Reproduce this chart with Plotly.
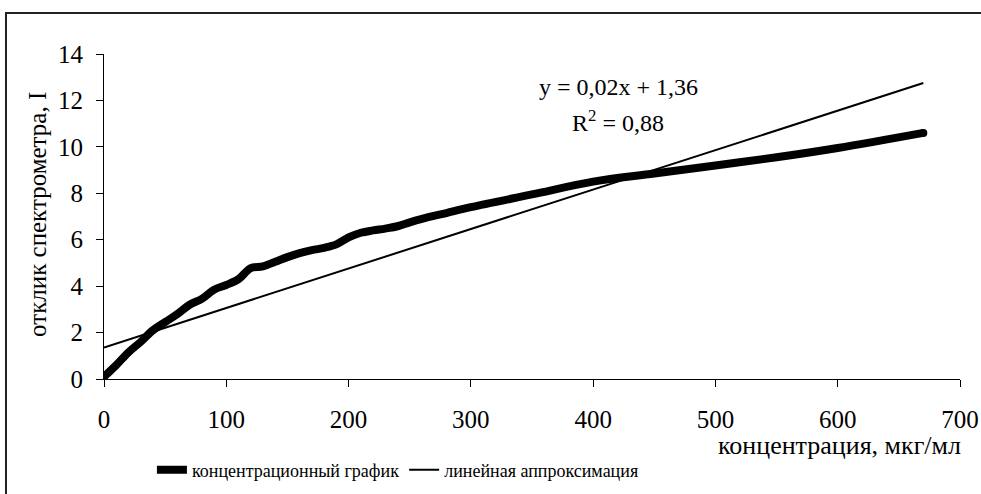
import plotly.graph_objects as go

# Concentration (µg/ml) and spectrometer response
concentration = [0, 10, 20, 30, 40, 50, 60, 70, 80, 90, 100, 110, 120, 130, 140,
                 150, 160, 170, 180, 190, 200, 210, 220, 230, 240, 250, 260, 280,
                 300, 350, 400, 450, 500, 550, 600, 670]
response = [0.1, 0.6, 1.15, 1.6, 2.1, 2.45, 2.8, 3.2, 3.45, 3.85, 4.05, 4.3, 4.78,
            4.85, 5.05, 5.25, 5.42, 5.55, 5.65, 5.8, 6.1, 6.3, 6.4, 6.48, 6.58,
            6.75, 6.9, 7.15, 7.4, 7.95, 8.5, 8.85, 9.2, 9.55, 9.95, 10.6]

# Linear approximation parameters
trend_slope = 0.017
trend_intercept = 1.36
trend_r2 = 0.88

x_ticks = [0, 100, 200, 300, 400, 500, 600, 700]
y_ticks = [0, 2, 4, 6, 8, 10, 12, 14]

series_names = ["концентрационный график", "линейная аппроксимация"]
x_title = "концентрация, мкг/мл"
y_title = "отклик спектрометра, I"


def fmt(v):
    return f"{v:.2f}".replace(".", ",")


trend_x = [min(concentration), max(concentration)]
trend_y = [trend_intercept + trend_slope * v for v in trend_x]

SERIF = "Liberation Serif, Times New Roman, serif"

fig = go.Figure()
fig.add_trace(go.Scatter(
    x=concentration, y=response, mode="lines", name=series_names[0],
    line=dict(color="black", width=8, shape="spline", smoothing=1.0),
))
# round caps at both ends of the thick curve
fig.add_trace(go.Scatter(
    x=[concentration[0], concentration[-1]], y=[response[0], response[-1]],
    mode="markers", showlegend=False, hoverinfo="skip",
    marker=dict(color="black", size=8),
))
fig.add_trace(go.Scatter(
    x=trend_x, y=trend_y, mode="lines", name=series_names[1],
    line=dict(color="black", width=2),
))

axis_common = dict(
    showgrid=False, zeroline=False, showline=True, linecolor="black",
    linewidth=1, ticks="outside", ticklen=7, tickcolor="black", tickwidth=1,
    automargin=False,
    tickfont=dict(family=SERIF, size=25, color="black"),
)
fig.update_xaxes(range=[0, 700], tickvals=x_ticks, ticklabelstandoff=11,
                 **axis_common)
fig.update_yaxes(range=[0, 14], tickvals=y_ticks, ticklabelstandoff=8,
                 **axis_common)

# outer chart frame
fig.add_shape(type="rect", xref="paper", yref="paper",
              x0=-0.1145, x1=1.2, y0=-0.6, y1=1.126,
              line=dict(color="#222", width=2), fillcolor="rgba(0,0,0,0)",
              layer="below")

fig.add_annotation(xref="paper", yref="paper", x=-0.077, y=0.505,
                   xanchor="center", yanchor="middle",
                   text=y_title, textangle=-90, showarrow=False,
                   font=dict(family=SERIF, size=25, color="black"))
fig.add_annotation(xref="paper", yref="paper", x=1.003, y=-0.206,
                   xanchor="right", yanchor="middle",
                   text=x_title, showarrow=False,
                   font=dict(family=SERIF, size=26, color="black"))
fig.add_annotation(xref="paper", yref="paper", x=0.6005, y=0.9446,
                   text=f"y = {fmt(trend_slope)}x + {fmt(trend_intercept)}",
                   showarrow=False,
                   font=dict(family=SERIF, size=24, color="black"))
fig.add_annotation(xref="paper", yref="paper", x=0.6005, y=0.846,
                   text=f"R<sup>2</sup> = {fmt(trend_r2)}",
                   showarrow=False,
                   font=dict(family=SERIF, size=24, color="black"))

fig.update_layout(
    width=981, height=494,
    margin=dict(l=104, r=21, t=54, b=115, autoexpand=False),
    plot_bgcolor="white", paper_bgcolor="white",
    showlegend=True,
    legend=dict(orientation="h", x=0.056, y=-0.28, xanchor="left",
                yanchor="middle", bgcolor="rgba(0,0,0,0)",
                font=dict(family=SERIF, size=18, color="black"),
                itemwidth=30, tracegroupgap=0),
)

fig.write_html("out.html")
